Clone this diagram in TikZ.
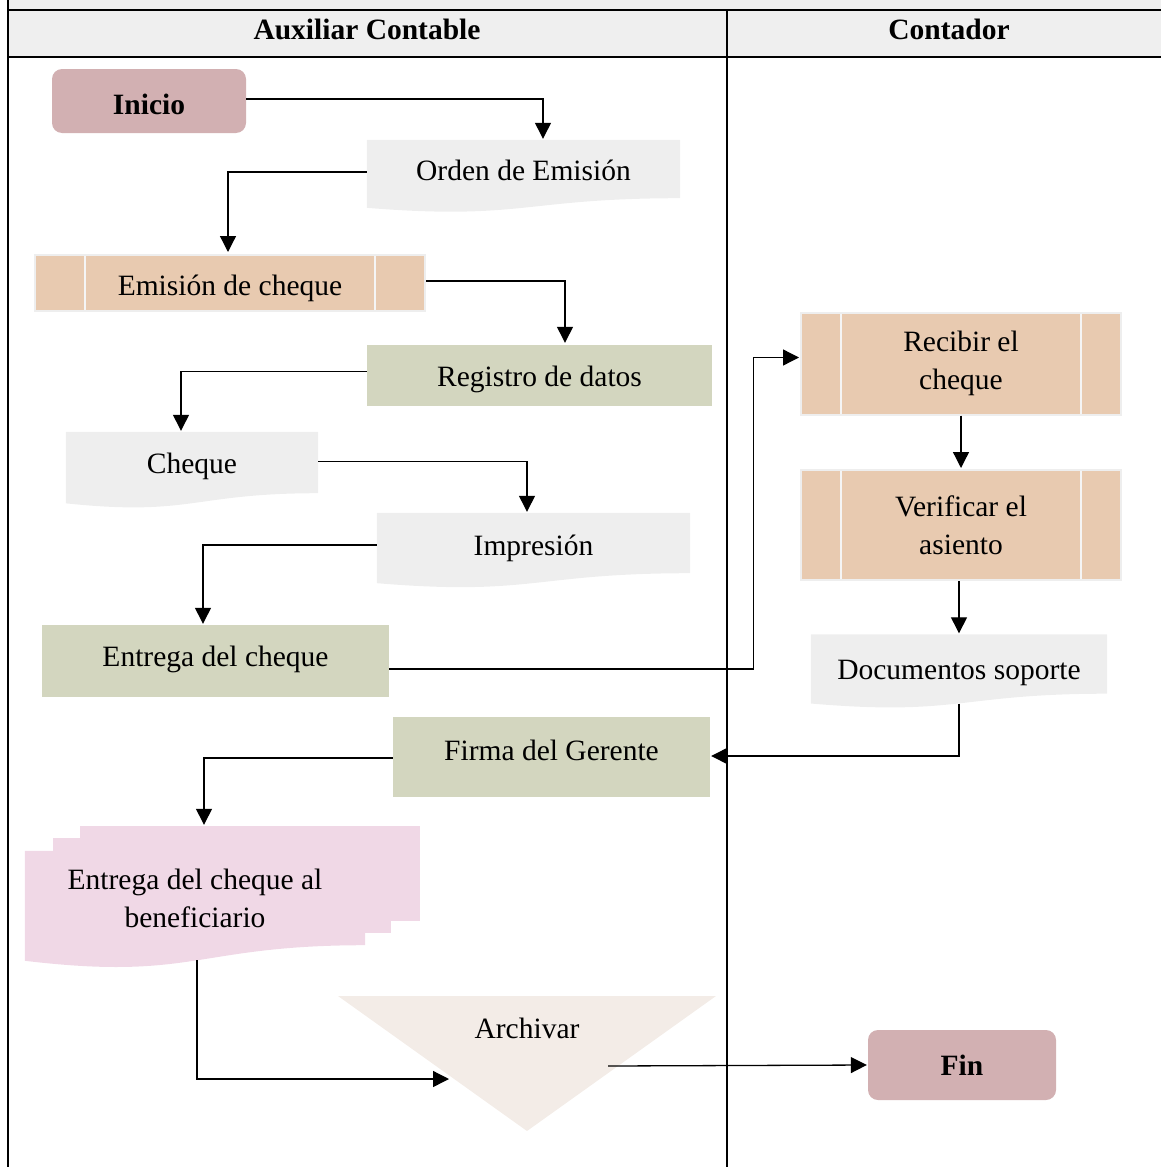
\documentclass[tikz,border=0pt]{standalone}
\usepackage{fontspec}
\setmainfont{Liberation Serif}
\usetikzlibrary{arrows.meta,calc}
\pgfdeclarelayer{background}
\pgfsetlayers{background,main}

\definecolor{termfill}{RGB}{210,176,178}
\definecolor{paper}{RGB}{238,238,238}
\definecolor{peach}{RGB}{232,202,176}
\definecolor{sage}{RGB}{211,214,191}
\definecolor{rosa}{RGB}{240,216,230}
\definecolor{archfill}{RGB}{243,236,231}
\definecolor{headgray}{RGB}{239,239,239}

% document symbol: fill below a node with a wavy lower edge
\newcommand\docwave[2]{%
  \begin{pgfonlayer}{background}
  \fill[#2] let \p1=(#1.north west), \p2=(#1.south east),
    \n1={\y1-\y2}, \n2={(\x1+\x2)/2} in
    (\x1,\y1) -- (\x2,\y1) -- (\x2,\y2)
    .. controls (\n2,\y2) and (\n2,{\y2-0.38*\n1}) .. (\x1,{\y2-0.165*\n1})
    -- cycle;
  \end{pgfonlayer}}
% move a label down inside its box without changing the box
\newcommand\txtdown[2]{\raisebox{-#1}[\height][\depth]{#2}}

\begin{document}
\begin{tikzpicture}[x=1pt,y=-1pt,
  every node/.style={font=\fontsize{29.5}{38}\selectfont, inner sep=0pt},
  sz/.style n args={2}{minimum width=#1, minimum height=#2},
  headtxt/.style={font=\fontsize{29.5}{38}\selectfont\bfseries},
  termbox/.style={fill=termfill, rounded corners=10pt,
    font=\fontsize{29.5}{38}\selectfont\bfseries},
  procbox/.style={fill=sage},
  docbox/.style={},
  predef/.style={fill=peach, draw=paper, line width=2pt,
    path picture={
      \draw[white!92!gray, line width=2.5pt]
        ([xshift=#1]path picture bounding box.north west) --
        ([xshift=#1]path picture bounding box.south west)
        ([xshift=-#1]path picture bounding box.north east) --
        ([xshift=-#1]path picture bounding box.south east);}},
  arr/.style={draw=black, line width=1.3pt,
    -{Triangle[width=16pt,length=16pt]}, shorten >=1pt},
  rule/.style={line width=2pt},
]
\useasboundingbox (0,0) rectangle (1161,1167);

% table frame and header row
\fill[headgray] (8,0) rectangle (1161,57);
\draw[rule] (8,10) -- (1161,10);
\draw[rule] (8,57) -- (1161,57);
\draw[rule] (8,0) -- (8,1167);
\draw[line width=1.5pt] (727,10) -- (727,1167);
\node[headtxt] (hdrA) at (367,29) {Auxiliar Contable};
\node[headtxt] (hdrB) at (949,29) {Contador};

% process steps
\node[termbox, sz={194pt}{64pt}] (inicio) at (149,101) {\txtdown{3pt}{Inicio}};
\node[docbox, sz={313pt}{58pt}] (orden) at (523.5,169) {\txtdown{1pt}{Orden de Emisión}};
\node[predef=50pt, sz={390pt}{56pt}] (emision) at (230,283) {\txtdown{5pt}{Emisión de cheque}};
\node[procbox, sz={345pt}{61pt}] (registro) at (539.5,375.5) {\txtdown{4pt}{Registro de datos}};
\node[docbox, sz={252pt}{61pt}] (cheque) at (192,462.5) {\txtdown{4pt}{Cheque}};
\node[docbox, sz={313pt}{60pt}] (impresion) at (533.5,543) {\txtdown{5pt}{Impresión}};
\node[procbox, sz={347pt}{72pt}] (entrega) at (215.5,661) {\txtdown{-2pt}{Entrega del cheque}};
\node[predef=40pt, sz={320pt}{102pt}, align=center] (recibir) at (961,363.5) {Recibir el\\cheque};
\node[predef=40pt, sz={320pt}{110pt}, align=center] (verificar) at (961,525) {Verificar el\\asiento};
\node[docbox, sz={296pt}{59pt}] (docs) at (959,664) {\txtdown{9pt}{Documentos soporte}};
\node[procbox, sz={317pt}{80pt}] (firma) at (551.5,757)
  {\txtdown{-7pt}{Firma del Gerente}};
\node[docbox, sz={340pt}{94pt}, align=center] (benef) at (195,898)
  {Entrega del cheque al\\beneficiario};
\node (archivar) at (527,1028) {Archivar};
\node[termbox, sz={188pt}{70pt}] (fin) at (962,1065) {Fin};

% document fills
\docwave{orden}{paper}
\docwave{cheque}{paper}
\docwave{impresion}{paper}
\docwave{docs}{paper}
\begin{pgfonlayer}{background}
  \fill[rosa] ([xshift=55pt,yshift=25pt]benef.north west) rectangle
              ([xshift=55pt,yshift=24pt]benef.south east);
  \fill[rosa] ([xshift=28pt,yshift=13pt]benef.north west) rectangle
              ([xshift=26pt,yshift=12pt]benef.south east);
  % archive triangle
  \fill[archfill] ([xshift=-189pt,yshift=32pt]archivar.center) --
                  ([xshift=189pt,yshift=32pt]archivar.center) --
                  ([yshift=-103pt]archivar.center) -- cycle;
\end{pgfonlayer}
\docwave{benef}{rosa}

% connectors
\draw[arr] ([yshift=2pt]inicio.east) -| ([xshift=19.5pt]orden.north);
\draw[arr] ([yshift=-3pt]orden.west) -| ([xshift=-2pt,yshift=1pt]emision.north);
\draw[arr] ([yshift=2pt]emision.east) -| ([xshift=25.5pt,yshift=1pt]registro.north);
\draw[arr] ([yshift=4pt]registro.west) -| ([xshift=-11pt]cheque.north);
\draw[arr] ([yshift=1pt]cheque.east) -| ([xshift=-6.5pt]impresion.north);
\draw[arr] ([yshift=-2pt]impresion.west) -| ([xshift=-12.5pt]entrega.north);
\draw[arr] ([yshift=-8pt]entrega.east) -- ++(364,0) |- ([yshift=6pt]recibir.west);
\draw[arr] (recibir.south) -- (verificar.north);
\draw[arr] (verificar.south -| docs.north) -- (docs.north);
\draw[arr] ([yshift=-10pt]docs.south) |- ([yshift=1pt]firma.east);
\draw[arr] ([yshift=-1pt]firma.west) -| ([xshift=9pt,yshift=25pt]benef.north);
\draw[arr] ([xshift=2pt,yshift=-15pt]benef.south) |-
           ([xshift=-77pt,yshift=-51pt]archivar.center);
\draw[arr] ([xshift=81pt,yshift=-38pt]archivar.center) -- (fin.west);
\end{tikzpicture}
\end{document}
